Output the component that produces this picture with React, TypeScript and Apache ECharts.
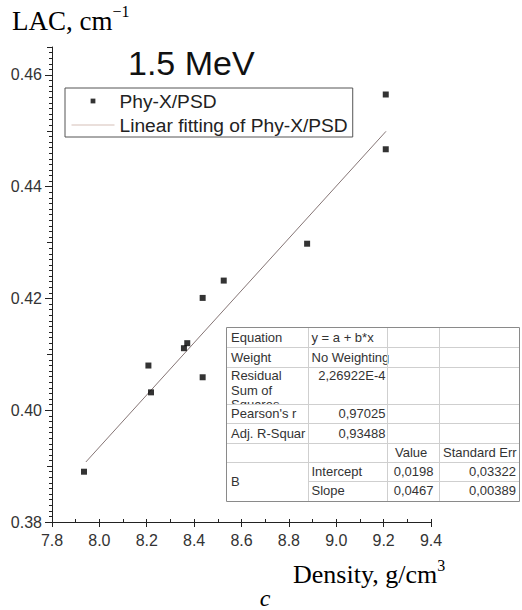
import React, { useEffect, useRef } from "react";
import * as echarts from "echarts";

// ---- data ----
const densityX = [7.935, 8.207, 8.218, 8.357, 8.371, 8.436, 8.436, 8.525, 8.877, 9.209, 9.209];
const lacY = [0.389, 0.408, 0.4032, 0.4111, 0.412, 0.4201, 0.4059, 0.4232, 0.4298, 0.4467, 0.4565];
const fitIntercept = 0.0198;
const fitSlope = 0.0467;
const fitRangeX = [7.943, 9.21];

const seriesNames = ["Phy-X/PSD", "Linear fitting of Phy-X/PSD"];
const titleText = "1.5 MeV";

const statNames = ["Equation", "Weight", "Residual", "Pearson's r", "Adj. R-Squar"];
const residualExtra = ["Sum of", "Squares"];
const statValues = ["y = a + b*x", "No Weighting", "2,26922E-4", "0,97025", "0,93488"];
const paramHeader = ["Value", "Standard Err"];
const paramGroup = "B";
const paramNames = ["Intercept", "Slope"];
const paramValues = ["0,0198", "0,0467"];
const paramErrors = ["0,03322", "0,00389"];

// ---- layout ----
const colX = [226, 308, 387, 439, 519];
const rowY = [327, 347, 367, 404, 423, 443, 462, 481, 501];
const TFONT = "Liberation Sans";
const TCOL = "#333";

function tText(text: string, x: number, y: number, align: string = "left") {
  return {
    type: "text",
    x,
    y,
    style: { text, fontFamily: TFONT, fontSize: 13, fill: TCOL, align, verticalAlign: "middle" },
  };
}
function hLine(x1: number, x2: number, y: number, color = "#cfcfcf") {
  return { type: "line", shape: { x1, y1: y + 0.5, x2, y2: y + 0.5 }, style: { stroke: color, lineWidth: 1 } };
}
function vLine(x: number, y1: number, y2: number, color = "#cfcfcf") {
  return { type: "line", shape: { x1: x + 0.5, y1, x2: x + 0.5, y2 }, style: { stroke: color, lineWidth: 1 } };
}

function buildTable(): any[] {
  const els: any[] = [];
  const L = colX[0], R = colX[4], T = rowY[0], B = rowY[8];
  els.push({ type: "rect", shape: { x: L + 0.5, y: T + 0.5, width: R - L, height: B - T }, style: { fill: "#fff", stroke: "none" } });
  // third line of "Residual Sum of Squares", clipped by the next row as in the reference
  els.push(tText(residualExtra[1], 231, 404.5));
  els.push({ type: "rect", shape: { x: L + 1, y: rowY[3], width: colX[1] - L - 1, height: rowY[4] - rowY[3] }, style: { fill: "#fff" } });

  const statCenters = [337, 357, 375, 413.5, 433];
  statNames.forEach((n, i) => els.push(tText(n, 231, statCenters[i])));
  els.push(tText(residualExtra[0], 231, 390));
  statValues.forEach((v, i) => {
    if (i < 2) els.push(tText(v, 311.5, statCenters[i]));
    else els.push(tText(v, 385.5, statCenters[i], "right"));
  });
  els.push(tText(paramHeader[0], 395, 452.5));
  els.push(tText(paramHeader[1], 443, 452.5));
  els.push(tText(paramGroup, 231, 481.5));
  const pCenters = [471.5, 490.5];
  paramNames.forEach((n, i) => {
    els.push(tText(n, 311.5, pCenters[i]));
    els.push(tText(paramValues[i], 433.5, pCenters[i], "right"));
    els.push(tText(paramErrors[i], 516, pCenters[i], "right"));
  });

  for (let r = 1; r <= 6; r++) els.push(hLine(L, R, rowY[r]));
  els.push(hLine(colX[1], R, rowY[7]));
  for (let c = 1; c <= 3; c++) els.push(vLine(colX[c], T, B));
  els.push({ type: "rect", shape: { x: L + 0.5, y: T + 0.5, width: R - L, height: B - T }, style: { fill: "none", stroke: "#8a8a8a", lineWidth: 1 } });
  return els;
}

export default function App() {
  const ref = useRef<HTMLDivElement>(null);
  useEffect(() => {
    if (!ref.current) return;
    const chart = echarts.init(ref.current, undefined, { renderer: "svg" });
    const scatterData = densityX.map((x, i) => [x, lacY[i]]);
    const fitData = fitRangeX.map((x) => [x, fitIntercept + fitSlope * x]);
    const axisColor = "#222";
    const labelStyle = { fontFamily: "Liberation Sans", fontSize: 16, color: "#333" };
    const baseY = {
      type: "value",
      min: 0.38,
      max: 0.465,
      position: "left",
      splitLine: { show: false },
    };
    const serifRich = (size: number, supSize: number) => ({
      a: { fontFamily: "Liberation Serif", fontSize: size, fill: "#000", lineHeight: size + 4, verticalAlign: "bottom" },
      s: { fontFamily: "Liberation Serif", fontSize: supSize, fill: "#000", lineHeight: supSize, verticalAlign: "top" },
    });
    chart.setOption({
      animation: false,
      backgroundColor: "#fff",
      grid: { left: 52, right: 91, top: 47, bottom: 88, containLabel: false },
      xAxis: [
        {
          type: "value",
          min: 7.8,
          max: 9.4,
          interval: 0.2,
          position: "bottom",
          axisLine: { show: true, lineStyle: { color: axisColor, width: 1 } },
          axisTick: { show: true, length: 5, lineStyle: { color: axisColor } },
          axisLabel: { ...labelStyle, margin: 10, formatter: (v: number) => v.toFixed(1) },
          splitLine: { show: false },
        },
        {
          type: "value",
          min: 7.8,
          max: 9.4,
          interval: 0.1,
          position: "bottom",
          axisLine: { show: false },
          axisTick: { show: true, inside: true, length: 3, lineStyle: { color: axisColor } },
          axisLabel: { show: false },
          splitLine: { show: false },
        },
      ],
      yAxis: [
        {
          ...baseY,
          interval: 0.02,
          axisLine: { show: true, lineStyle: { color: axisColor, width: 1 } },
          axisTick: { show: true, length: 7, lineStyle: { color: axisColor } },
          axisLabel: {
            ...labelStyle,
            margin: 10,
            showMaxLabel: false,
            formatter: (v: number) => (Math.abs(v / 0.02 - Math.round(v / 0.02)) < 1e-6 ? v.toFixed(2) : ""),
          },
        },
        {
          ...baseY,
          interval: 0.01,
          axisLine: { show: false },
          axisTick: { show: true, length: 5, lineStyle: { color: axisColor } },
          axisLabel: { show: false },
        },
        {
          ...baseY,
          interval: 0.001,
          axisLine: { show: false },
          axisTick: { show: true, length: 3, lineStyle: { color: axisColor } },
          axisLabel: { show: false },
        },
      ],
      legend: {
        orient: "vertical",
        left: 65,
        top: 88,
        padding: [3, 5, 2, 6.5],
        itemGap: 4,
        itemWidth: 43,
        itemHeight: 5,
        borderColor: "#555",
        borderWidth: 1,
        borderRadius: 0,
        backgroundColor: "#fff",
        selectedMode: false,
        symbolKeepAspect: true,
        textStyle: { fontFamily: "Liberation Sans", fontSize: 19.2, color: "#222", lineHeight: 20 },
        data: [
          {
            name: seriesNames[0],
            icon: "path://M0,0.5L0,0.5M4,0L5,0L5,1L4,1ZM9,0.5L9,0.5",
            itemStyle: { color: "#000", borderWidth: 0 },
          },
          {
            name: seriesNames[1],
            icon: "path://M0,0L43,0L43,1L0,1Z",
            itemStyle: { color: "#d6bfb7", borderWidth: 0 },
          },
        ],
      },
      series: [
        {
          name: seriesNames[1],
          type: "line",
          data: fitData,
          showSymbol: false,
          symbol: "none",
          lineStyle: { color: "#857575", width: 1 },
          itemStyle: { color: "#d6bfb7" },
          z: 2,
        },
        {
          name: seriesNames[0],
          type: "scatter",
          data: scatterData,
          symbol: "rect",
          symbolSize: 6,
          itemStyle: { color: "#000" },
          z: 3,
        },
      ],
      graphic: [
        {
          type: "text",
          x: 128,
          y: 63,
          style: { text: titleText, fontFamily: "Liberation Sans", fontSize: 34, fill: "#111", verticalAlign: "middle" },
        },
        {
          type: "text",
          x: 12,
          y: 3,
          style: { text: "{a|LAC, cm}{s|−1}", verticalAlign: "top", rich: serifRich(27, 16) },
        },
        {
          type: "text",
          x: 293,
          y: 557,
          style: { text: "{a|Density, g/cm}{s|3}", verticalAlign: "top", rich: serifRich(26, 16) },
        },
        {
          type: "text",
          x: 265,
          y: 598,
          style: { text: "c", fontFamily: "Liberation Serif", fontStyle: "italic", fontSize: 24, fill: "#000", align: "center", verticalAlign: "middle" },
        },
        ...buildTable(),
      ],
    });
    return () => chart.dispose();
  }, []);
  return <div ref={ref} style={{ position: "absolute", left: 0, top: 0, width: 522, height: 610 }} />;
}
